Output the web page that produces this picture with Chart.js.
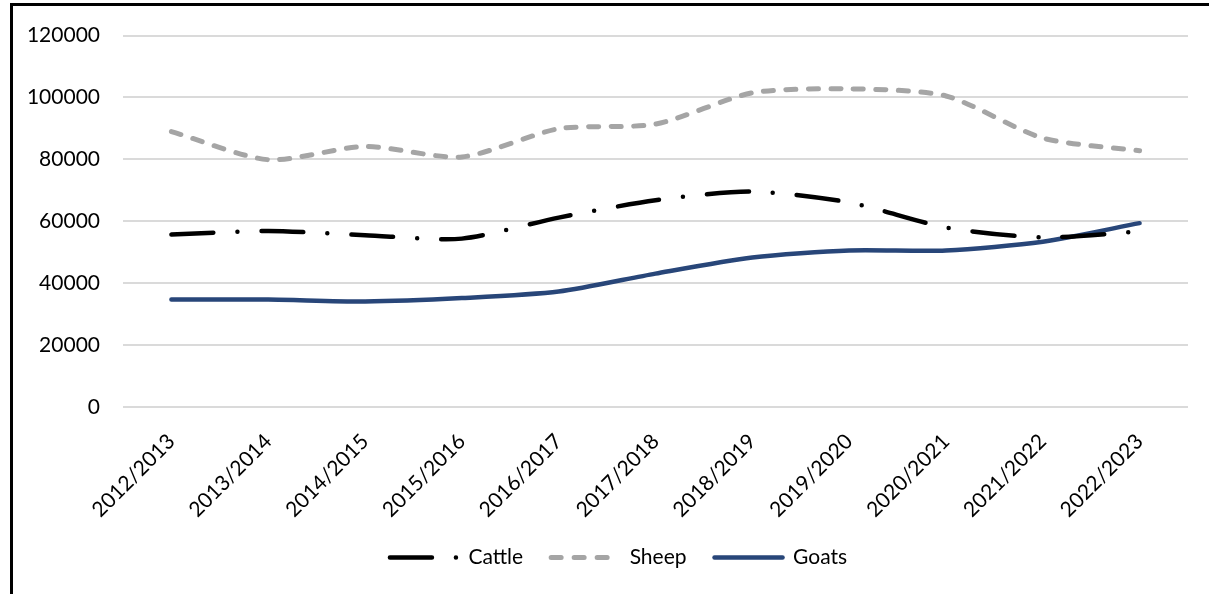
<!DOCTYPE html>
<html>
<head>
<meta charset="utf-8">
<script src="https://cdn.jsdelivr.net/npm/chart.js@4.4.1/dist/chart.umd.min.js"></script>
<style>
  html, body { margin: 0; padding: 0; background: #fff; }
  #wrap { position: relative; width: 1209px; height: 594px; overflow: hidden; }
  #frame {
    position: absolute; left: 10px; top: 3px; width: 1300px; height: 700px;
    border-left: 3px solid #000; border-top: 3px solid #000; box-sizing: border-box;
  }
  canvas { position: absolute; left: 0; top: 0; }
</style>
</head>
<body>
<div id="wrap">
  <div id="frame"></div>
  <canvas id="chart" width="1209" height="594"></canvas>
</div>
<script>
// Livestock numbers per season
const seasons = ['2012/2013', '2013/2014', '2014/2015', '2015/2016', '2016/2017', '2017/2018',
                 '2018/2019', '2019/2020', '2020/2021', '2021/2022', '2022/2023'];
const cattle = [55700, 56900, 55500, 54400, 61200, 66800, 69600, 66100, 58000, 54800, 56700];
const sheep  = [89000, 79900, 84200, 80800, 89900, 91400, 101500, 102800, 100500, 86900, 82800];
const goats  = [34700, 34700, 34100, 35200, 37300, 43100, 48300, 50600, 50600, 53400, 59400];
const yTicks = [0, 20000, 40000, 60000, 80000, 100000, 120000];

const FONT = 'Lato, "Open Sans", sans-serif';

// Nudge the legend row so it sits centred under the plot as laid out
const legendShift = {
  id: 'legendShift',
  afterLayout(chart) {
    const lg = chart.legend;
    if (lg) { lg.left += 24.5; lg.right += 24.5; }
  }
};

// Dash patterns for the legend samples (the sheep one trimmed to three dashes)
const legendDash = [[42, 24, 0, 24], [10, 13], []];

new Chart(document.getElementById('chart'), {
  type: 'line',
  data: {
    labels: seasons,
    datasets: [
      {
        label: 'Cattle', data: cattle,
        borderColor: '#000000', backgroundColor: '#000000',
        borderWidth: 4.5, borderDash: [42, 24, 0, 24], borderCapStyle: 'round',
        pointRadius: 0, tension: 0.25
      },
      {
        label: 'Sheep', data: sheep,
        borderColor: '#A5A5A5', backgroundColor: '#A5A5A5',
        borderWidth: 5, borderDash: [10, 12.5], borderCapStyle: 'round',
        pointRadius: 0, tension: 0.25
      },
      {
        label: 'Goats', data: goats,
        borderColor: '#284679', backgroundColor: '#284679',
        borderWidth: 4.5, borderCapStyle: 'round',
        pointRadius: 0, tension: 0.25
      }
    ]
  },
  plugins: [legendShift],
  options: {
    responsive: false,
    animation: false,
    devicePixelRatio: 1,
    layout: { padding: { left: 0, right: 21, top: 34, bottom: 16 } },
    plugins: {
      tooltip: { enabled: false },
      legend: {
        position: 'bottom',
        labels: {
          usePointStyle: true,
          pointStyle: 'line',
          boxWidth: 68,
          pointStyleWidth: 68,
          boxHeight: 6,
          padding: 28,
          color: '#000',
          font: { family: FONT, size: 21 },
          generateLabels: chart => chart.data.datasets.map((ds, i) => ({
            text: ds.label,
            fillStyle: ds.borderColor,
            strokeStyle: ds.borderColor,
            lineWidth: ds.borderWidth,
            lineDash: legendDash[i],
            lineCap: 'round',
            pointStyle: 'line',
            fontColor: '#000',
            hidden: false,
            datasetIndex: i
          }))
        }
      }
    },
    scales: {
      x: {
        offset: true,
        grid: { display: false },
        border: { display: false },
        ticks: {
          color: '#000', font: { family: FONT, size: 21 },
          minRotation: 45, maxRotation: 45, padding: 14, autoSkip: false
        },
        afterFit: s => { s.height = 112; }
      },
      y: {
        min: 0, max: 120000,
        border: { display: false },
        grid: { color: '#DADADA', lineWidth: 2, drawTicks: false },
        afterBuildTicks: s => { s.ticks = yTicks.map(v => ({ value: v })); },
        ticks: {
          color: '#000', font: { family: FONT, size: 21 }, padding: 23,
          callback: v => String(v)
        },
        afterFit: s => { s.width = 123; }
      }
    }
  }
});
</script>
</body>
</html>
